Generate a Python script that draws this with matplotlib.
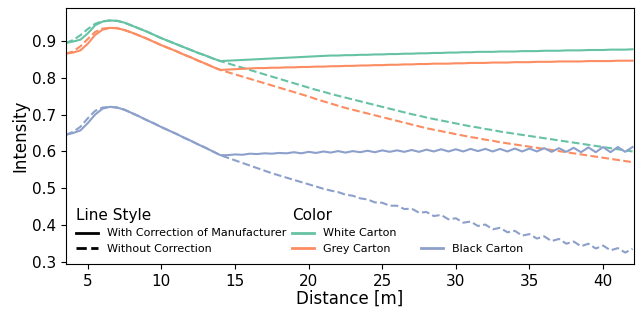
import numpy as np
import matplotlib
matplotlib.use("Agg")
import matplotlib.pyplot as plt
from matplotlib.lines import Line2D

# Distance samples [m]
distance = [3.5, 4.0, 4.5, 5.0, 5.5, 6.0, 6.5, 7.0, 7.5, 8.0, 8.5, 9.0, 9.5, 10.0,
            10.5, 11.0, 11.5, 12.0, 12.5, 13.0, 13.5, 14.0, 14.5, 15.0, 15.5, 16.0,
            16.5, 17.0, 17.5, 18.0, 18.5, 19.0, 19.5, 20.0, 20.5, 21.0, 21.5, 22.0,
            22.5, 23.0, 23.5, 24.0, 24.5, 25.0, 25.5, 26.0, 26.5, 27.0, 27.5, 28.0,
            28.5, 29.0, 29.5, 30.0, 30.5, 31.0, 31.5, 32.0, 32.5, 33.0, 33.5, 34.0,
            34.5, 35.0, 35.5, 36.0, 36.5, 37.0, 37.5, 38.0, 38.5, 39.0, 39.5, 40.0,
            40.5, 41.0, 41.5, 42.0]

white_corrected = [0.894, 0.898, 0.903, 0.920, 0.942, 0.952, 0.955, 0.954, 0.949, 0.941,
                   0.933, 0.925, 0.916, 0.907, 0.899, 0.891, 0.883, 0.875, 0.867, 0.860,
                   0.852, 0.845, 0.846, 0.847, 0.848, 0.849, 0.850, 0.851, 0.852, 0.853,
                   0.854, 0.855, 0.856, 0.857, 0.858, 0.859, 0.860, 0.860, 0.861, 0.861,
                   0.862, 0.862, 0.863, 0.863, 0.864, 0.864, 0.865, 0.865, 0.866, 0.866,
                   0.867, 0.867, 0.868, 0.868, 0.869, 0.869, 0.870, 0.870, 0.870, 0.871,
                   0.871, 0.871, 0.872, 0.872, 0.872, 0.873, 0.873, 0.873, 0.874, 0.874,
                   0.874, 0.875, 0.875, 0.875, 0.876, 0.876, 0.876, 0.877]
white_raw = [0.894, 0.902, 0.915, 0.932, 0.946, 0.953, 0.955, 0.954, 0.949, 0.941,
             0.933, 0.925, 0.916, 0.907, 0.899, 0.891, 0.883, 0.875, 0.867, 0.860,
             0.852, 0.845, 0.839, 0.833, 0.827, 0.821, 0.815, 0.809, 0.803, 0.797,
             0.791, 0.785, 0.779, 0.773, 0.767, 0.762, 0.756, 0.751, 0.746, 0.741,
             0.736, 0.731, 0.726, 0.721, 0.716, 0.711, 0.706, 0.701, 0.697, 0.692,
             0.688, 0.684, 0.680, 0.676, 0.672, 0.668, 0.665, 0.661, 0.658, 0.654,
             0.651, 0.648, 0.645, 0.642, 0.639, 0.636, 0.633, 0.630, 0.627, 0.624,
             0.621, 0.618, 0.615, 0.612, 0.609, 0.606, 0.603, 0.600]

grey_corrected = [0.865, 0.868, 0.874, 0.892, 0.916, 0.930, 0.935, 0.934, 0.929, 0.922,
                  0.914, 0.906, 0.897, 0.888, 0.880, 0.872, 0.863, 0.855, 0.846, 0.838,
                  0.829, 0.821, 0.822, 0.823, 0.824, 0.825, 0.826, 0.826, 0.827, 0.827,
                  0.828, 0.828, 0.829, 0.829, 0.830, 0.830, 0.831, 0.831, 0.832, 0.832,
                  0.833, 0.833, 0.834, 0.834, 0.835, 0.835, 0.836, 0.836, 0.837, 0.837,
                  0.838, 0.838, 0.838, 0.839, 0.839, 0.840, 0.840, 0.840, 0.841, 0.841,
                  0.841, 0.842, 0.842, 0.842, 0.843, 0.843, 0.843, 0.844, 0.844, 0.844,
                  0.844, 0.845, 0.845, 0.845, 0.845, 0.846, 0.846, 0.846]
grey_raw = [0.865, 0.871, 0.885, 0.905, 0.924, 0.933, 0.935, 0.934, 0.929, 0.922,
            0.914, 0.906, 0.897, 0.888, 0.880, 0.872, 0.863, 0.855, 0.846, 0.838,
            0.829, 0.821, 0.815, 0.809, 0.803, 0.797, 0.791, 0.785, 0.779, 0.773,
            0.767, 0.761, 0.755, 0.749, 0.742, 0.736, 0.730, 0.724, 0.718, 0.713,
            0.708, 0.703, 0.698, 0.693, 0.688, 0.683, 0.678, 0.673, 0.668, 0.663,
            0.659, 0.655, 0.651, 0.647, 0.643, 0.639, 0.636, 0.632, 0.629, 0.625,
            0.622, 0.619, 0.616, 0.613, 0.610, 0.607, 0.604, 0.601, 0.598, 0.595,
            0.592, 0.589, 0.586, 0.583, 0.580, 0.577, 0.574, 0.571]

black_corrected = [0.645, 0.650, 0.657, 0.677, 0.700, 0.716, 0.721, 0.719, 0.713, 0.704,
                   0.695, 0.685, 0.676, 0.666, 0.657, 0.648, 0.638, 0.629, 0.619, 0.610,
                   0.600, 0.590, 0.590, 0.592, 0.591, 0.594, 0.593, 0.595, 0.594, 0.596,
                   0.595, 0.598, 0.595, 0.599, 0.596, 0.600, 0.597, 0.601, 0.597, 0.601,
                   0.598, 0.602, 0.598, 0.603, 0.599, 0.603, 0.599, 0.604, 0.599, 0.605,
                   0.600, 0.606, 0.600, 0.606, 0.600, 0.607, 0.601, 0.607, 0.600, 0.607,
                   0.600, 0.608, 0.600, 0.608, 0.600, 0.609, 0.599, 0.609, 0.599, 0.610,
                   0.598, 0.611, 0.598, 0.612, 0.598, 0.612, 0.599, 0.612]
black_raw = [0.645, 0.653, 0.667, 0.690, 0.710, 0.719, 0.721, 0.719, 0.713, 0.704,
             0.695, 0.685, 0.676, 0.666, 0.657, 0.648, 0.638, 0.629, 0.619, 0.610,
             0.600, 0.590, 0.583, 0.576, 0.569, 0.562, 0.555, 0.548, 0.541, 0.535,
             0.529, 0.523, 0.517, 0.511, 0.505, 0.499, 0.494, 0.490, 0.483, 0.480,
             0.473, 0.470, 0.462, 0.461, 0.453, 0.453, 0.444, 0.445, 0.434, 0.436,
             0.425, 0.428, 0.416, 0.419, 0.407, 0.410, 0.398, 0.402, 0.389, 0.393,
             0.381, 0.385, 0.372, 0.376, 0.364, 0.370, 0.357, 0.363, 0.350, 0.356,
             0.343, 0.350, 0.337, 0.345, 0.332, 0.338, 0.326, 0.336]

cartons = ["White Carton", "Grey Carton", "Black Carton"]
carton_colors = ["#66c2a5", "#fc8d62", "#8da0cb"]
style_labels = ["With Correction of Manufacturer", "Without Correction"]
x_ticks = [5, 10, 15, 20, 25, 30, 35, 40]
y_ticks = [0.3, 0.4, 0.5, 0.6, 0.7, 0.8, 0.9]

corrected = [white_corrected, grey_corrected, black_corrected]
raw = [white_raw, grey_raw, black_raw]

fig = plt.figure(figsize=(6.36, 3.09), dpi=100)
ax = fig.add_axes([0.1033, 0.1456, 0.8936, 0.8275])

for col, yc, yr in zip(carton_colors, corrected, raw):
    ax.plot(distance, yc, color=col, lw=1.5, ls="-")
    ax.plot(distance, yr, color=col, lw=1.5, ls="--")

ax.set_xlim(3.5, 42.1)
ax.set_ylim(0.295, 0.988)
ax.set_xticks(x_ticks)
ax.set_yticks(y_ticks)
ax.tick_params(labelsize=11)
ax.set_xlabel("Distance [m]", fontsize=12, labelpad=1)
ax.set_ylabel("Intensity", fontsize=12, labelpad=2)


def blank():
    return Line2D([], [], visible=False)


handles1 = [blank(),
            Line2D([], [], color="black", lw=2, ls="-"),
            Line2D([], [], color="black", lw=2, ls="--"),
            blank(),
            Line2D([], [], color=carton_colors[0], lw=2),
            Line2D([], [], color=carton_colors[1], lw=2)]
labels1 = ["Line Style", style_labels[0], style_labels[1],
           "Color", cartons[0], cartons[1]]
leg1 = ax.legend(handles1, labels1, ncol=2, loc="lower left", frameon=False,
                 fontsize=8, columnspacing=0.5)
for column in leg1._legend_handle_box.get_children():
    for item in column.get_children():
        da, ta = item.get_children()
        if not all(h.get_visible() for h in da.get_children()):
            da.set_width(0)
            item.sep = 0
            for t in ta.get_children():
                t.set_size(11)
ax.add_artist(leg1)

leg2 = ax.legend([Line2D([], [], color=carton_colors[2], lw=2)], [cartons[2]],
                 loc="lower left", bbox_to_anchor=(0.608, 0), frameon=False,
                 fontsize=8)

fig.savefig("out.png", dpi=100)
